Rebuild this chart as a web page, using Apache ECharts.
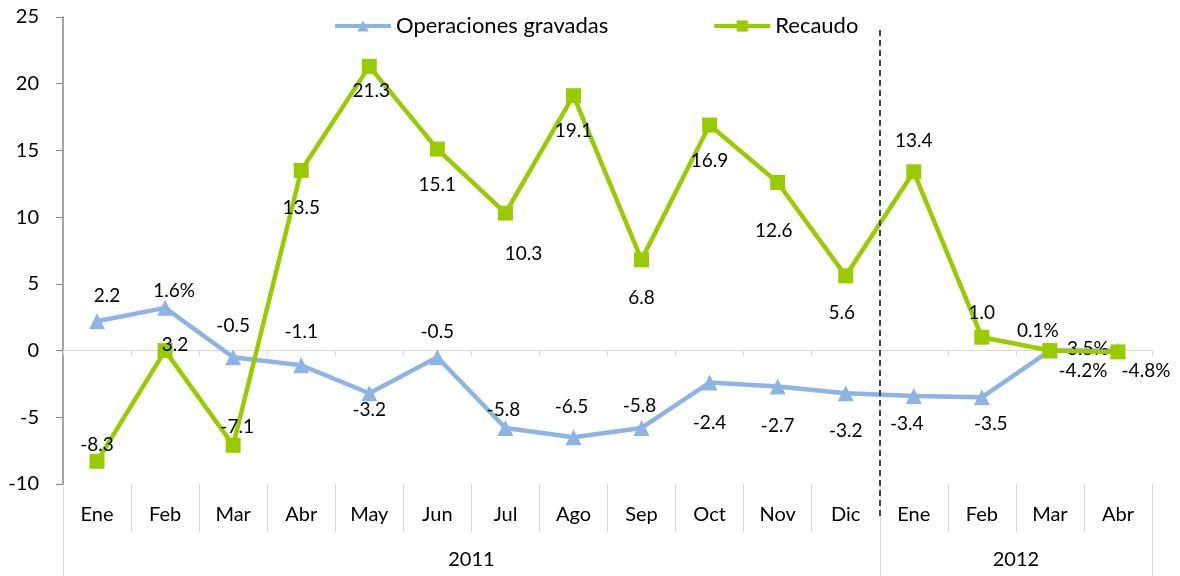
<!DOCTYPE html>
<html>
<head>
<meta charset="utf-8">
<script src="https://cdn.jsdelivr.net/npm/echarts@6/dist/echarts.min.js"></script>
<style>
  html, body { margin: 0; padding: 0; background: #fff; }
  #chart { width: 1180px; height: 576px; }
</style>
</head>
<body>
<div id="chart"></div>
<script>
const months = ['Ene', 'Feb', 'Mar', 'Abr', 'May', 'Jun', 'Jul', 'Ago', 'Sep', 'Oct', 'Nov', 'Dic', 'Ene', 'Feb', 'Mar', 'Abr'];
const years = ['2011', '2012'];
const monthsPerYear = [12, 4];

const operaciones = [2.2, 3.2, -0.5, -1.1, -3.2, -0.5, -5.8, -6.5, -5.8, -2.4, -2.7, -3.2, -3.4, -3.5, 0.0, 0.0];
const operacionesLabels = ['2.2', '1.6%', '-0.5', '-1.1', '-3.2', '-0.5', '-5.8', '-6.5', '-5.8', '-2.4', '-2.7', '-3.2', '-3.4', '-3.5', '3.5%', '-4.2%'];

const recaudo = [-8.3, 0.0, -7.1, 13.5, 21.3, 15.1, 10.3, 19.1, 6.8, 16.9, 12.6, 5.6, 13.4, 1.0, 0.0, -0.1];
const recaudoLabels = ['-8.3', '3.2', '-7.1', '13.5', '21.3', '15.1', '10.3', '19.1', '6.8', '16.9', '12.6', '5.6', '13.4', '1.0', '0.1%', '-4.8%'];

// label offsets from the point (as placed in the original)
const opsOffsets = [[10, -25], [9, -17], [0, -31], [0, -33], [0, 17], [0, -25], [-2, -18], [-2, -30], [-2, -22], [0, 40], [0, 39], [0, 38], [-7, 28], [9, 27], [38, -2], [-35, 20]];
const recOffsets = [[0, -16], [10, -6], [4, -18], [0, 37], [2, 25], [0, 36], [18, 41], [0, 35], [0, 38], [0, 36], [-4, 48], [-4, 37], [0, -31], [0, -24], [-12, -20], [28, 19]];

const FONT = 'Lato';
const BLUE = '#8EB4E3';
const GREEN = '#99CC00';

function points(values, labels, offsets) {
  return values.map((v, i) => ({
    value: v,
    label: { formatter: labels[i], offset: offsets[i] }
  }));
}

// year boundaries / centers on a 0..16 scale
const yearEdges = [0];
monthsPerYear.forEach(n => yearEdges.push(yearEdges[yearEdges.length - 1] + n));
const yearCenters = years.map((y, i) => (yearEdges[i] + yearEdges[i + 1]) / 2);

const chart = echarts.init(document.getElementById('chart'));
const gridBox = { left: 63, right: 28, top: 17, bottom: 92 };

chart.setOption({
  animation: false,
  textStyle: { fontFamily: FONT },
  legend: {
    top: 10,
    left: 328,
    itemWidth: 56,
    itemHeight: 14,
    itemGap: 104,
    lineStyle: { width: 4 },
    textStyle: { fontFamily: FONT, fontSize: 22, color: '#000' },
    data: ['Operaciones gravadas', 'Recaudo']
  },
  grid: [gridBox, gridBox, { left: 63, right: 28, top: 30, bottom: 60 }],
  xAxis: [
    {
      type: 'category',
      gridIndex: 0,
      data: months,
      position: 'bottom',
      axisLine: { show: false, onZero: false },
      axisTick: { show: true, interval: 0, length: 48, lineStyle: { color: '#d9d9d9' } },
      axisLabel: { interval: 0, margin: 21, fontSize: 20, color: '#000', fontFamily: FONT },
      splitLine: { show: false }
    },
    {
      type: 'category',
      gridIndex: 0,
      data: months,
      position: 'bottom',
      axisLine: { show: true, onZero: true, lineStyle: { color: '#d9d9d9', width: 1 } },
      axisTick: { show: true, interval: 0, length: 5, lineStyle: { color: '#d9d9d9' } },
      axisLabel: { show: false },
      splitLine: { show: false }
    },
    {
      type: 'value',
      gridIndex: 1,
      min: 0,
      max: months.length,
      position: 'bottom',
      axisLine: { show: false, onZero: false },
      axisTick: { show: true, customValues: yearEdges, length: 92, lineStyle: { color: '#d9d9d9' } },
      axisLabel: {
        customValues: yearCenters,
        formatter: v => years[yearCenters.indexOf(v)],
        margin: 66, fontSize: 20, color: '#000', fontFamily: FONT
      },
      splitLine: { show: false }
    },
    {
      type: 'value',
      gridIndex: 2,
      min: 0,
      max: months.length,
      show: false
    }
  ],
  yAxis: [
    {
      type: 'value',
      gridIndex: 0,
      min: -10,
      max: 25,
      interval: 5,
      axisLine: { show: true, lineStyle: { color: '#868686', width: 1.5 } },
      axisTick: { show: true, length: 7, lineStyle: { color: '#868686' } },
      axisLabel: { margin: 24, fontSize: 20, color: '#000', fontFamily: FONT },
      splitLine: { show: false }
    },
    { type: 'value', gridIndex: 1, min: -10, max: 25, show: false },
    { type: 'value', gridIndex: 2, min: 0, max: 1, show: false }
  ],
  series: [
    {
      name: 'Operaciones gravadas',
      type: 'line',
      xAxisIndex: 0,
      yAxisIndex: 0,
      data: points(operaciones, operacionesLabels, opsOffsets),
      symbol: 'triangle',
      symbolSize: 16,
      lineStyle: { color: BLUE, width: 4.5 },
      itemStyle: { color: BLUE },
      label: { show: true, position: 'inside', fontSize: 19, color: '#000', fontFamily: FONT },
      z: 2
    },
    {
      name: 'Recaudo',
      type: 'line',
      xAxisIndex: 0,
      yAxisIndex: 0,
      data: points(recaudo, recaudoLabels, recOffsets),
      symbol: 'rect',
      symbolSize: 15,
      lineStyle: { color: GREEN, width: 4.5 },
      itemStyle: { color: GREEN },
      label: { show: true, position: 'inside', fontSize: 19, color: '#000', fontFamily: FONT },
      z: 3
    },
    {
      type: 'line',
      xAxisIndex: 3,
      yAxisIndex: 2,
      data: [[yearEdges[1], 0.5]],
      symbol: 'none',
      silent: true,
      markLine: {
        silent: true,
        symbol: ['none', 'none'],
        label: { show: false },
        lineStyle: { color: '#404040', type: [6, 4], width: 2 },
        data: [{ xAxis: yearEdges[1] }]
      }
    }
  ]
});
</script>
</body>
</html>
